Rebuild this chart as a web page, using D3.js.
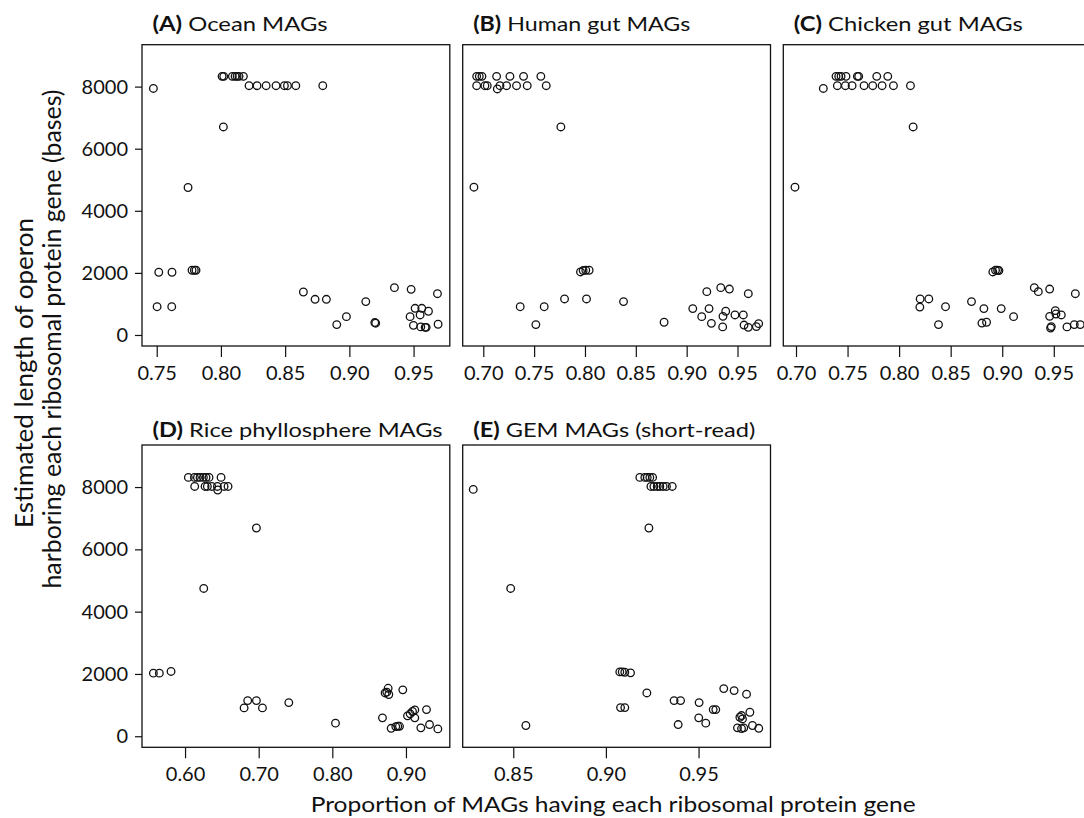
<!DOCTYPE html>
<html>
<head>
<meta charset="utf-8">
<script src="https://cdn.jsdelivr.net/npm/d3@7"></script>
<style>
  html, body { margin: 0; padding: 0; background: #fff; }
  svg { display: block; }
  text { font-family: Lato, "Open Sans", "DejaVu Sans", sans-serif; fill: #111; }
</style>
</head>
<body>
<svg id="chart" width="1084" height="818"></svg>
<script>
// ---- data: [proportion of MAGs, estimated operon length (bases)] ----
const ocean = [
  [0.7474,7940],
  [0.8009,8330],[0.8022,8330],[0.8089,8330],[0.8110,8330],[0.8126,8330],[0.8141,8330],[0.8175,8330],
  [0.8219,8030],[0.8281,8030],[0.8352,8030],[0.8429,8030],[0.8494,8030],[0.8518,8030],[0.8583,8030],[0.8793,8030],
  [0.8019,6700],
  [0.7744,4750],
  [0.7516,2020],[0.7619,2020],
  [0.7775,2085],[0.7793,2085],[0.7806,2085],
  [0.7503,910],[0.7617,910],
  [0.8642,1385],
  [0.8733,1150],[0.8821,1150],
  [0.8902,335],[0.8977,590],
  [0.9128,1075],
  [0.9198,400],[0.9205,380],
  [0.9351,1525],[0.9481,1470],[0.9686,1330],[0.9691,345],
  [0.9512,860],[0.9564,860],[0.9616,765],[0.9473,590],[0.9551,645],[0.9499,310],[0.9556,260],[0.9590,245],[0.9598,245]
];
const human = [
  [0.6935,8330],[0.6961,8330],[0.6987,8330],[0.7131,8330],[0.7262,8330],[0.7396,8330],[0.7566,8330],
  [0.6935,8030],[0.7016,8030],[0.7039,8030],[0.7164,8030],[0.7229,8030],[0.7327,8030],[0.7432,8030],[0.7619,8030],
  [0.7138,7925],
  [0.7763,6700],
  [0.6908,4760],
  [0.7956,2030],[0.7982,2075],[0.8008,2085],[0.8041,2085],
  [0.7363,910],[0.7599,910],
  [0.7517,335],
  [0.7799,1160],[0.8015,1160],
  [0.8379,1075],
  [0.8778,410],
  [0.9060,850],[0.9198,1395],[0.9335,1525],[0.9420,1480],[0.9606,1330],
  [0.9220,850],[0.9148,590],[0.9243,375],[0.9354,260],[0.9357,600],[0.9384,765],[0.9475,645],
  [0.9557,645],[0.9564,320],[0.9606,245],[0.9685,270],[0.9708,365]
];
const chicken = [
  [0.6990,4760],
  [0.7265,7940],
  [0.7388,8330],[0.7414,8330],[0.7437,8330],[0.7485,8330],[0.7595,8330],[0.7608,8330],[0.7783,8330],[0.7890,8330],
  [0.7401,8030],[0.7479,8030],[0.7544,8030],[0.7660,8030],[0.7744,8030],[0.7835,8030],[0.7945,8030],[0.8110,8030],
  [0.8136,6700],
  [0.8909,2030],[0.8935,2085],[0.8955,2085],[0.8968,2075],
  [0.8204,1160],[0.8288,1160],[0.8201,900],[0.8450,910],[0.8382,335],[0.8702,1075],[0.8822,850],
  [0.8803,385],[0.8848,410],[0.8990,850],[0.9110,590],
  [0.9311,1525],[0.9350,1395],[0.9460,1480],[0.9709,1330],
  [0.9460,600],[0.9515,785],[0.9521,675],[0.9573,645],[0.9476,270],[0.9469,225],[0.9628,260],[0.9699,335],[0.9757,335]
];
const rice = [
  [0.6045,8310],[0.6127,8310],[0.6168,8310],[0.6204,8310],[0.6249,8310],[0.6285,8310],[0.6326,8310],[0.6489,8310],
  [0.6131,8020],[0.6272,8020],[0.6303,8020],[0.6362,8020],[0.6439,8020],[0.6530,8020],[0.6584,8020],
  [0.6444,7905],
  [0.6969,6685],
  [0.6254,4745],
  [0.5570,2025],[0.5651,2025],[0.5810,2080],
  [0.6802,910],[0.6851,1145],[0.6969,1145],[0.7051,910],
  [0.7409,1080],
  [0.8043,420],
  [0.8681,590],
  [0.8717,1390],[0.8758,1540],[0.8767,1340],[0.8740,1415],
  [0.8957,1490],
  [0.8799,255],[0.8862,310],[0.8889,320],[0.8912,320],
  [0.9021,655],[0.9057,720],[0.9089,795],[0.9120,845],[0.9120,590],
  [0.9279,855],
  [0.9202,270],[0.9320,375],[0.9433,235]
];
const gem = [
  [0.8284,7925],
  [0.8486,4745],
  [0.9183,8310],[0.9210,8310],[0.9223,8310],[0.9237,8310],[0.9252,8310],
  [0.9243,8020],[0.9259,8020],[0.9277,8020],[0.9291,8020],[0.9309,8020],[0.9327,8020],[0.9358,8020],
  [0.9232,6685],
  [0.8568,345],
  [0.9075,2065],[0.9088,2065],[0.9102,2055],[0.9133,2035],
  [0.9079,920],[0.9102,920],
  [0.9221,1390],
  [0.9368,1145],[0.9403,1145],
  [0.9390,375],
  [0.9503,1080],
  [0.9501,590],[0.9539,420],
  [0.9579,855],[0.9593,855],
  [0.9636,1530],[0.9692,1465],[0.9759,1350],
  [0.9777,770],[0.9723,610],[0.9732,665],[0.9737,555],
  [0.9710,270],[0.9732,245],[0.9744,270],
  [0.9791,345],[0.9825,255]
];

// ---- tick labels ----
const oceanTicks   = [0.75, 0.80, 0.85, 0.90, 0.95];
const humanTicks   = [0.70, 0.75, 0.80, 0.85, 0.90, 0.95];
const chickenTicks = [0.70, 0.75, 0.80, 0.85, 0.90, 0.95];
const riceTicks    = [0.60, 0.70, 0.80, 0.90];
const gemTicks     = [0.85, 0.90, 0.95];
const yTicks       = [0, 2000, 4000, 6000, 8000];

// ---- titles ----
const panelLetters = ["(A)", "(B)", "(C)", "(D)", "(E)"];
const panelNames   = ["Ocean MAGs", "Human gut MAGs", "Chicken gut MAGs", "Rice phyllosphere MAGs", "GEM MAGs (short-read)"];
const xTitle  = "Proportion of MAGs having each ribosomal protein gene";
const yTitle1 = "Estimated length of operon";
const yTitle2 = "harboring each ribosomal protein gene (bases)";

// ---- layout ----
const svg = d3.select("#chart");
const boxW = 307.8;
const rows = [
  {top: 44.7, bottom: 346.0, titleY: 30.5},
  {top: 445.0, bottom: 747.3, titleY: 436.7}
];
const panels = [
  {pts: ocean,   ticks: oceanTicks,   left: 142.0, row: 0, dom: [0.73854, 0.97821], yaxis: true,  tw: 175},
  {pts: human,   ticks: humanTicks,   left: 462.7, row: 0, dom: [0.67976, 0.98243], yaxis: false, tw: 217},
  {pts: chicken, ticks: chickenTicks, left: 783.3, row: 0, dom: [0.68768, 0.98619], yaxis: false, tw: 229},
  {pts: rice,    ticks: riceTicks,    left: 142.0, row: 1, dom: [0.54155, 0.95953], yaxis: true,  tw: 290},
  {pts: gem,     ticks: gemTicks,     left: 462.7, row: 1, dom: [0.82271, 0.98883], yaxis: false, tw: 282}
];

panels.forEach((p, i) => {
  const r = rows[p.row];
  const x = d3.scaleLinear().domain(p.dom).range([p.left, p.left + boxW]);
  const y = d3.scaleLinear().domain([-355, 9350]).range([r.bottom, r.top]);
  const g = svg.append("g");

  // x axis
  const xa = g.append("g")
    .attr("transform", `translate(0,${r.bottom})`)
    .call(d3.axisBottom(x).tickValues(p.ticks).tickFormat(d3.format(".2f")).tickSize(11).tickPadding(9));
  xa.select(".domain").remove();
  xa.selectAll("line").attr("stroke", "#111").attr("stroke-width", 1.2);
  xa.selectAll("text").attr("font-size", 20).attr("font-family", "Lato, sans-serif").attr("fill", "#111");

  // y axis
  if (p.yaxis) {
    const ya = g.append("g")
      .attr("transform", `translate(${p.left},0)`)
      .call(d3.axisLeft(y).tickValues(yTicks).tickFormat(d3.format("d")).tickSize(7).tickPadding(7));
    ya.select(".domain").remove();
    ya.selectAll("line").attr("stroke", "#111").attr("stroke-width", 1.2);
    ya.selectAll("text").attr("font-size", 20).attr("font-family", "Lato, sans-serif").attr("fill", "#111");
  }

  // box
  g.append("rect")
    .attr("x", p.left).attr("y", r.top)
    .attr("width", boxW).attr("height", r.bottom - r.top)
    .attr("fill", "none").attr("stroke", "#111").attr("stroke-width", 1.3);

  // points
  g.selectAll("circle.pt").data(p.pts).join("circle")
    .attr("class", "pt")
    .attr("cx", d => x(d[0])).attr("cy", d => y(d[1]))
    .attr("r", 3.8)
    .attr("fill", "none").attr("stroke", "#111").attr("stroke-width", 1.3);

  // title
  const t = g.append("text")
    .attr("x", p.left + 10.5).attr("y", r.titleY)
    .attr("font-size", 20)
    .attr("textLength", p.tw).attr("lengthAdjust", "spacingAndGlyphs");
  t.append("tspan").attr("font-weight", "bold").text(panelLetters[i]);
  t.append("tspan").text(" " + panelNames[i]);
});

// axis titles
svg.append("text")
  .attr("x", 310.7).attr("y", 812)
  .attr("font-size", 22)
  .attr("textLength", 605).attr("lengthAdjust", "spacingAndGlyphs")
  .text(xTitle);

svg.append("text")
  .attr("transform", "translate(33,373) rotate(-90)")
  .attr("text-anchor", "middle")
  .attr("font-size", 25)
  .attr("textLength", 310).attr("lengthAdjust", "spacingAndGlyphs")
  .text(yTitle1);

svg.append("text")
  .attr("transform", "translate(61,339) rotate(-90)")
  .attr("text-anchor", "middle")
  .attr("font-size", 25)
  .attr("textLength", 499).attr("lengthAdjust", "spacingAndGlyphs")
  .text(yTitle2);
</script>
</body>
</html>
